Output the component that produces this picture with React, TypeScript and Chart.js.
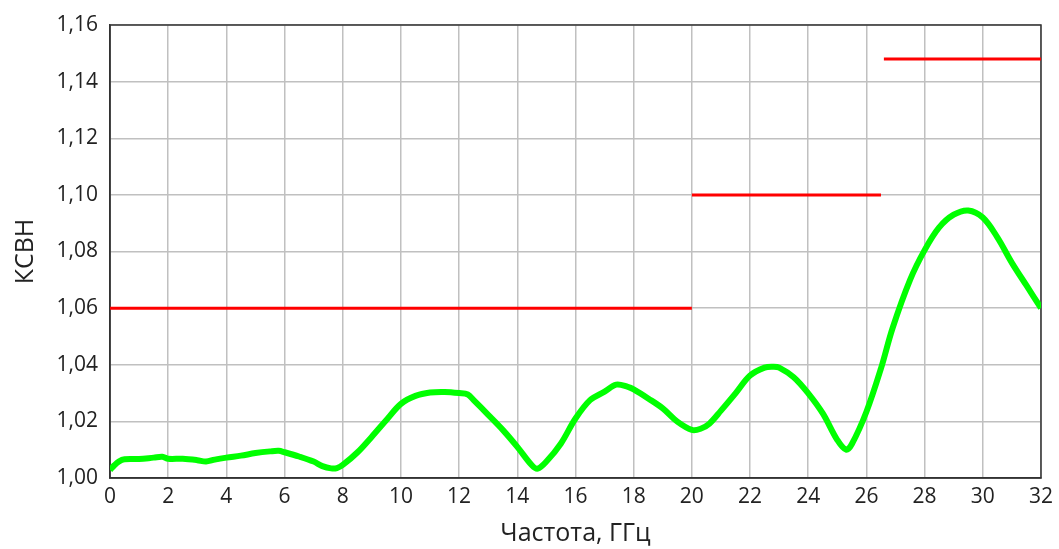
import React, { useEffect, useRef } from "react";
import { Chart, registerables } from "chart.js";

Chart.register(...registerables);

const freq = [0, 0.15, 0.3, 0.5, 1.0, 1.5, 1.8, 2.0, 2.5, 3.0, 3.3, 3.6, 4.0, 4.5, 5.0, 5.5, 5.8, 6.0, 6.5, 7.0, 7.3, 7.6, 7.8, 8.0, 8.5, 9.0, 9.5, 10.0, 10.5, 11.0, 11.5, 12.0, 12.3, 12.5, 13.0, 13.5, 14.0, 14.5, 14.7, 15.0, 15.5, 16.0, 16.5, 17.0, 17.4, 17.8, 18.0, 18.5, 19.0, 19.5, 20.0, 20.3, 20.6, 21.0, 21.5, 22.0, 22.5, 22.8, 23.0, 23.5, 24.0, 24.5, 25.0, 25.3, 25.5, 26.0, 26.5, 26.9, 27.5, 28.0, 28.5, 29.0, 29.5, 30.0, 30.5, 31.0, 31.5, 32.0];
const vswr = [1.0028, 1.0045, 1.0058, 1.0066, 1.0067, 1.0072, 1.0075, 1.0068, 1.0068, 1.0063, 1.0058, 1.0065, 1.0072, 1.0079, 1.0088, 1.0094, 1.0096, 1.0091, 1.0076, 1.0058, 1.0042, 1.0034, 1.0035, 1.0046, 1.009, 1.0146, 1.0205, 1.0262, 1.029, 1.0302, 1.0304, 1.03, 1.0295, 1.0275, 1.0223, 1.017, 1.011, 1.0045, 1.0033, 1.0058, 1.0122, 1.021, 1.0275, 1.0305, 1.033, 1.0322, 1.0313, 1.0281, 1.0246, 1.0199, 1.017, 1.0174, 1.0192, 1.0238, 1.0299, 1.0362, 1.039, 1.0393, 1.039, 1.0356, 1.0299, 1.0228, 1.0134, 1.01, 1.012, 1.0234, 1.0387, 1.053, 1.07, 1.0805, 1.0885, 1.093, 1.0945, 1.092, 1.085, 1.076, 1.068, 1.06];

// limit segments: [startFreq, endFreq, level]
const limitStart = [0, 20, 26.6];
const limitEnd = [20, 26.5, 32];
const limitLevel = [1.06, 1.1, 1.148];

const xTicksMin = 0;
const xTicksMax = 32;
const xStep = 2;
const yMin = 1.0;
const yMax = 1.16;
const yStep = 0.02;

const xTitle = "Частота, ГГц";
const yTitle = "КСВН";

const FONT = "'Open Sans', 'Noto Sans', sans-serif";

export default function App() {
  const ref = useRef<HTMLCanvasElement | null>(null);

  useEffect(() => {
    if (!ref.current) return;
    const datasets: any[] = [
      {
        label: "КСВН",
        data: freq.map((f, i) => ({ x: f, y: vswr[i] })),
        borderColor: "#00ff00",
        borderWidth: 6,
        pointRadius: 0,
        tension: 0.35,
        fill: false,
        order: 2,
      },
    ];
    limitLevel.forEach((lv, i) => {
      datasets.push({
        label: "limit" + i,
        data: [
          { x: limitStart[i], y: lv },
          { x: limitEnd[i], y: lv },
        ],
        borderColor: "#ff0000",
        borderWidth: 3,
        pointRadius: 0,
        fill: false,
        order: 1,
      });
    });

    const framePlugin = {
      id: "frame",
      beforeDatasetsDraw(chart: any) {
        const { ctx, chartArea } = chart;
        ctx.save();
        ctx.strokeStyle = "#333333";
        ctx.lineWidth = 1.5;
        ctx.strokeRect(chartArea.left, chartArea.top, chartArea.right - chartArea.left, chartArea.bottom - chartArea.top);
        ctx.restore();
      },
    };

    const chart = new Chart(ref.current, {
      type: "line",
      data: { datasets },
      plugins: [framePlugin],
      options: {
        animation: false,
        responsive: true,
        maintainAspectRatio: false,
        layout: { padding: { top: 25, right: 18, bottom: 0, left: 0 } },
        plugins: {
          legend: { display: false },
          tooltip: { enabled: false },
        },
        scales: {
          x: {
            type: "linear",
            min: xTicksMin,
            max: xTicksMax,
            ticks: {
              stepSize: xStep,
              color: "#222",
              font: { family: FONT, size: 21 },
              padding: 6,
              maxRotation: 0,
            },
            grid: { color: "#c0c0c0", lineWidth: 1.5, drawTicks: false },
            border: { color: "#333", width: 1.5 },
            title: {
              display: true,
              text: xTitle,
              color: "#222",
              font: { family: FONT, size: 25 },
              padding: { top: 0, bottom: 0 },
            },
            afterFit(s: any) {
              s.height = 71;
            },
          },
          y: {
            type: "linear",
            min: yMin,
            max: yMax,
            ticks: {
              stepSize: yStep,
              color: "#222",
              font: { family: FONT, size: 21 },
              padding: 12,
              callback: (v: any) => Number(v).toFixed(2).replace(".", ","),
            },
            grid: { color: "#c0c0c0", lineWidth: 1.5, drawTicks: false },
            border: { color: "#333", width: 1.5 },
            title: {
              display: true,
              text: yTitle,
              color: "#222",
              font: { family: FONT, size: 25 },
              padding: { top: 11, bottom: 0 },
            },
            afterFit(s: any) {
              s.width = 110;
            },
          },
        },
      },
    });
    return () => chart.destroy();
  }, []);

  return (
    <div style={{ position: "fixed", left: 0, top: 0, width: 1059, height: 549, background: "#fff" }}>
      <canvas ref={ref} />
    </div>
  );
}
